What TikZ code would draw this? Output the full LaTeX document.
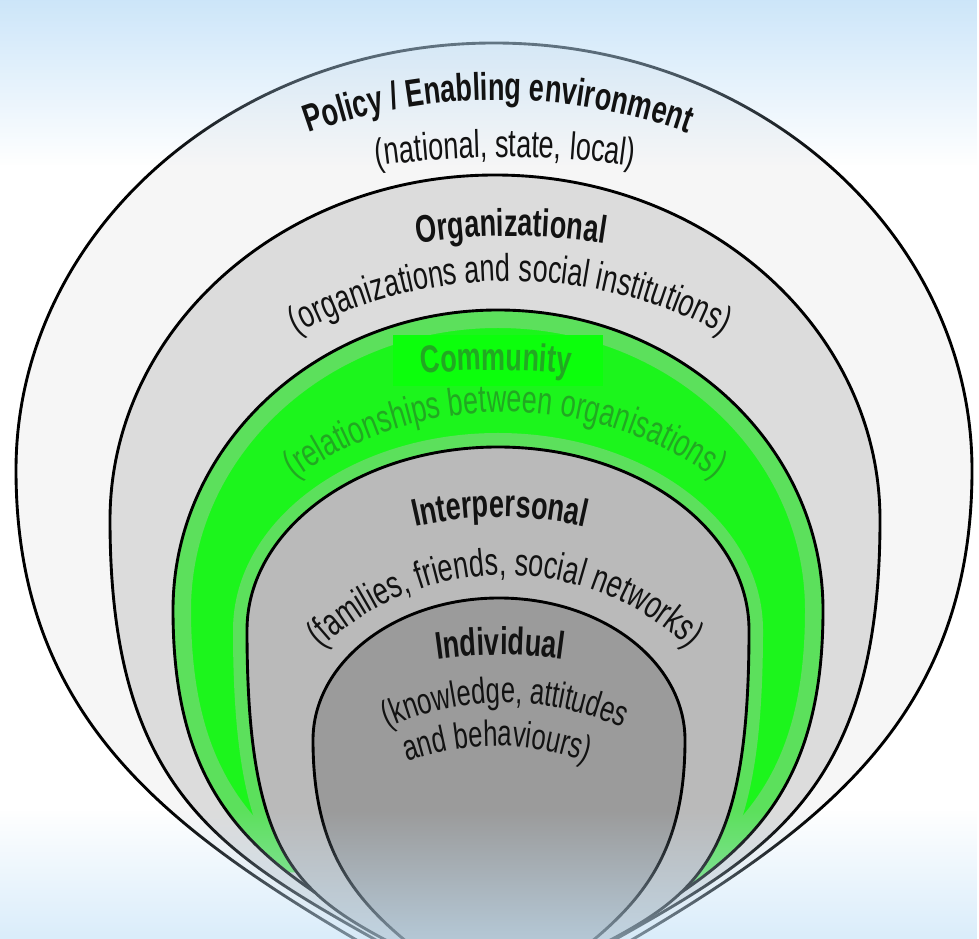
\documentclass[tikz,border=0pt]{standalone}
\usepackage{fontspec}
\setmainfont{Liberation Sans}[FakeStretch=0.7]
\usetikzlibrary{decorations.text,fadings}
\definecolor{policyfill}{HTML}{F6F6F6}
\definecolor{orgfill}{HTML}{DCDCDC}
\definecolor{commfill}{HTML}{CDCDCD}
\definecolor{interfill}{HTML}{BABABA}
\definecolor{indivfill}{HTML}{9B9B9B}
\definecolor{greenmid}{HTML}{5CE05C}
\definecolor{greenbright}{HTML}{1CF51C}
\definecolor{greenpatch}{HTML}{0CFF0C}
\definecolor{greentext}{HTML}{22A822}
\definecolor{topblue}{HTML}{B9DCF7}
\definecolor{botblue}{HTML}{C4E2F8}
\definecolor{inkblack}{HTML}{121212}
\tikzfading[name=topfade, top color=transparent!0, bottom color=transparent!100]
\tikzfading[name=botfade, top color=transparent!100, bottom color=transparent!12]
% layer outlines, in picture pixels with y pointing down
\def\policypath{(16,470) arc[start angle=180, end angle=360, x radius=478, y radius=427]
  .. controls (972,770) and (749,870) .. (494,1020)
  .. controls (239,870) and (16,770) .. (16,470) -- cycle}
\def\orgpath{(110,520) arc[start angle=180, end angle=360, x radius=385, y radius=345]
  .. controls (880,850) and (715,870) .. (495,1010)
  .. controls (275,870) and (110,850) .. (110,520) -- cycle}
\def\commpath{(173,610) arc[start angle=180, end angle=360, x radius=325, y radius=300]
  .. controls (823,860) and (678,885) .. (498,1005)
  .. controls (318,885) and (173,860) .. (173,610) -- cycle}
\def\interpath{(247,630) arc[start angle=180, end angle=360, x radius=251, y radius=183]
  .. controls (749,920) and (668,900) .. (498,1000)
  .. controls (328,900) and (247,920) .. (247,630) -- cycle}
\def\indivpath{(313,740) arc[start angle=180, end angle=360, x radius=186, y radius=142]
  .. controls (685,890) and (609,930) .. (499,1010)
  .. controls (389,930) and (313,890) .. (313,740) -- cycle}
\begin{document}
\begin{tikzpicture}[x=0.25mm, y=0.25mm,
  layerline/.style={draw=black, line width=0.72mm},
  bigtitle/.style={decorate, decoration={text along path, text align=center, text color=inkblack,
     text={|\bfseries\fontsize{27.5}{32}\selectfont|#1}}},
  title/.style={decorate, decoration={text along path, text align=center, text color=inkblack,
     text={|\bfseries\fontsize{27.5}{32}\selectfont|#1}}},
  subtitle/.style={decorate, decoration={text along path, text align=center, text color=inkblack,
     text={|\fontsize{27.5}{32}\selectfont|#1}}},
  smallsub/.style={decorate, decoration={text along path, text align=center, text color=inkblack,
     text={|\fontsize{26}{30}\selectfont|#1}}},
  greentitle/.style={decorate, decoration={text along path, text align=center, text color=greentext,
     text={|\bfseries\fontsize{27.5}{32}\selectfont|#1}}},
  greensub/.style={decorate, decoration={text along path, text align=center, text color=greentext,
     text={|\fontsize{27.5}{32}\selectfont|#1}}}]
\useasboundingbox (0,0) rectangle (979,938);
\clip (0,0) rectangle (979,938);
\fill[white] (0,0) rectangle (979,938);
\begin{scope}[shift={(0,938)}, yscale=-1]
  \fill[policyfill] \policypath;
  \draw[layerline] \policypath;
  \fill[orgfill] \orgpath;
  \draw[layerline] \orgpath;
  \fill[commfill] \commpath;
  \begin{scope}
    \clip \commpath;
    \clip (0,0) -- (979,0) -- (979,912) -- (650,918) -- (498,880) -- (300,872) -- (0,872) -- cycle;
    \fill[greenbright] (0,0) rectangle (979,938);
    \draw[greenmid, line width=9mm] \commpath;
    \draw[greenmid, line width=7mm] \interpath;
    \fill[greenpatch] (393,335) rectangle (603,386);
  \end{scope}
  \draw[layerline] \commpath;
  \fill[interfill] \interpath;
  \draw[layerline] \interpath;
  \fill[indivfill] \indivpath;
  \draw[layerline] \indivpath;
\end{scope}
% blue haze overlays
\fill[topblue, path fading=topfade] (0,1003) rectangle (979,773);
\fill[botblue, path fading=botfade] (0,128) rectangle (979,-52);
% texts (y up: Y = 938 - y)
\path[bigtitle={Policy / Enabling environment}] (498,277) ++(118:561) arc[start angle=118, end angle=62, radius=561];
\path[subtitle={(national, state, local)}] (505,-119) ++(102:900) arc[start angle=102, end angle=78, radius=900];
\path[title={Organizational}] (511,102) ++(105:600) arc[start angle=105, end angle=75, radius=600];
\path[subtitle={(organizations and social institutions)}] (510,203) ++(130:454) arc[start angle=130, end angle=50, radius=454];
\path[greentitle={Community}] (496,-132) ++(102:700) arc[start angle=102, end angle=78, radius=700];
\path[greensub={(relationships between organisations)}] (505,163) ++(135:363) arc[start angle=135, end angle=45, radius=363];
\path[title={Interpersonal}] (500,46) ++(112:375) arc[start angle=112, end angle=68, radius=375];
\path[subtitle={(families, friends, social networks)}] (505,97) ++(145:266) arc[start angle=145, end angle=35, radius=266];
\path[title={Individual}] (500,-167) ++(104:450) arc[start angle=104, end angle=76, radius=450];
\path[smallsub={(knowledge, attitudes}] (505,-55) ++(120:290) arc[start angle=120, end angle=60, radius=290];
\path[smallsub={and behaviours)}] (497,-68) ++(118:260) arc[start angle=118, end angle=62, radius=260];
\end{tikzpicture}
\end{document}
